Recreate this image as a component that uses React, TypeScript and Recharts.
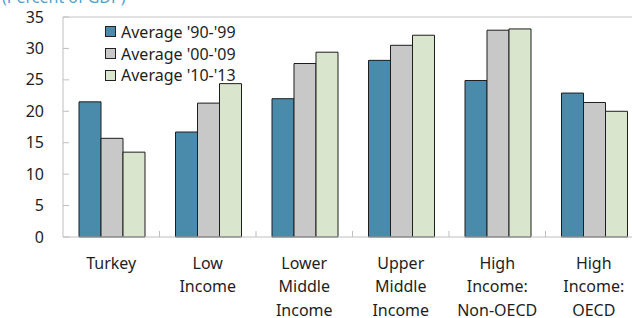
import { BarChart, Bar, XAxis, YAxis, ReferenceLine } from 'recharts';

const categories = [
  'Turkey',
  'Low|Income',
  'Lower|Middle|Income',
  'Upper|Middle|Income',
  'High|Income:|Non-OECD',
  'High|Income:|OECD',
];
const avg90s = [21.5, 16.7, 22.0, 28.1, 24.9, 22.9];
const avg00s = [15.7, 21.3, 27.6, 30.5, 32.9, 21.4];
const avg10s = [13.5, 24.4, 29.4, 32.1, 33.1, 20.0];
const yTicks = [0, 5, 10, 15, 20, 25, 30, 35];

const series = [
  { key: 'a90', name: "Average '90-'99", color: '#4a8aab' },
  { key: 'a00', name: "Average '00-'09", color: '#c8c8c8' },
  { key: 'a10', name: "Average '10-'13", color: '#d9e5cd' },
];

const data = categories.map((c, i) => ({
  name: c,
  a90: avg90s[i],
  a00: avg00s[i],
  a10: avg10s[i],
}));

const FONT = '"Noto Sans", sans-serif';
const CHART_W = 660;
const LEFT = 63;
const RIGHT = 18;
const catW = (CHART_W - LEFT - RIGHT) / categories.length;

function YTick(props: any) {
  const { x, y, payload } = props;
  return (
    <g>
      <line x1={x} x2={x + 6} y1={y} y2={y} stroke="#bfbfbf" />
      <text x={x - 19} y={y + 5.5} textAnchor="end" fontSize={16} fill="#1e1e1e" fontFamily={FONT}>
        {payload.value}
      </text>
    </g>
  );
}

function XTick(props: any) {
  const { x, y, payload, index } = props;
  const lines = String(payload.value).split('|');
  return (
    <g>
      {index > 0 && (
        <line x1={x - catW / 2} x2={x - catW / 2} y1={y} y2={y - 6} stroke="#bfbfbf" />
      )}
      <text textAnchor="middle" fontSize={16} fill="#1e1e1e" fontFamily={FONT}>
        {lines.map((l, i) => (
          <tspan key={i} x={x} y={y + 32 + i * 23.4}>
            {l}
          </tspan>
        ))}
      </text>
    </g>
  );
}

export default function App() {
  return (
    <div
      style={{
        position: 'absolute',
        left: 0,
        top: 0,
        width: 632,
        height: 318,
        overflow: 'hidden',
        background: '#fff',
      }}
    >
      <div
        style={{
          position: 'absolute',
          left: 2,
          top: -11,
          fontFamily: FONT,
          fontSize: 16,
          lineHeight: '16px',
          color: '#4f9fd3',
        }}
      >
        (Percent of GDP)
      </div>
      <BarChart
        width={CHART_W}
        height={318}
        data={data}
        margin={{ top: 17, right: RIGHT, left: 0, bottom: 0 }}
        barCategoryGap={16}
        barGap={0}
      >
        <YAxis
          domain={[0, 35]}
          ticks={yTicks}
          width={LEFT}
          tickLine={false}
          tickSize={0}
          tickMargin={0}
          tick={<YTick />}
          axisLine={{ stroke: '#bfbfbf' }}
          interval={0}
        />
        <XAxis
          dataKey="name"
          height={81}
          tickLine={false}
          tickSize={0}
          tickMargin={0}
          tick={<XTick />}
          axisLine={{ stroke: '#bfbfbf' }}
          interval={0}
        />
        <ReferenceLine y={35} stroke="#d9d9d9" strokeWidth={1.5} />
        {series.map((s) => (
          <Bar
            key={s.key}
            dataKey={s.key}
            name={s.name}
            fill={s.color}
            stroke="#1e1e1e"
            strokeWidth={1}
            isAnimationActive={false}
          />
        ))}
      </BarChart>
      <div
        style={{
          position: 'absolute',
          left: 105,
          top: 21,
          fontFamily: FONT,
          fontSize: 16,
          color: '#1e1e1e',
        }}
      >
        {series.map((s) => (
          <div key={s.key} style={{ display: 'flex', alignItems: 'center', height: 21.7 }}>
            <span
              style={{
                width: 9,
                height: 9,
                background: s.color,
                border: '1px solid #222',
                marginRight: 5,
              }}
            />
            <span>{s.name}</span>
          </div>
        ))}
      </div>
    </div>
  );
}
